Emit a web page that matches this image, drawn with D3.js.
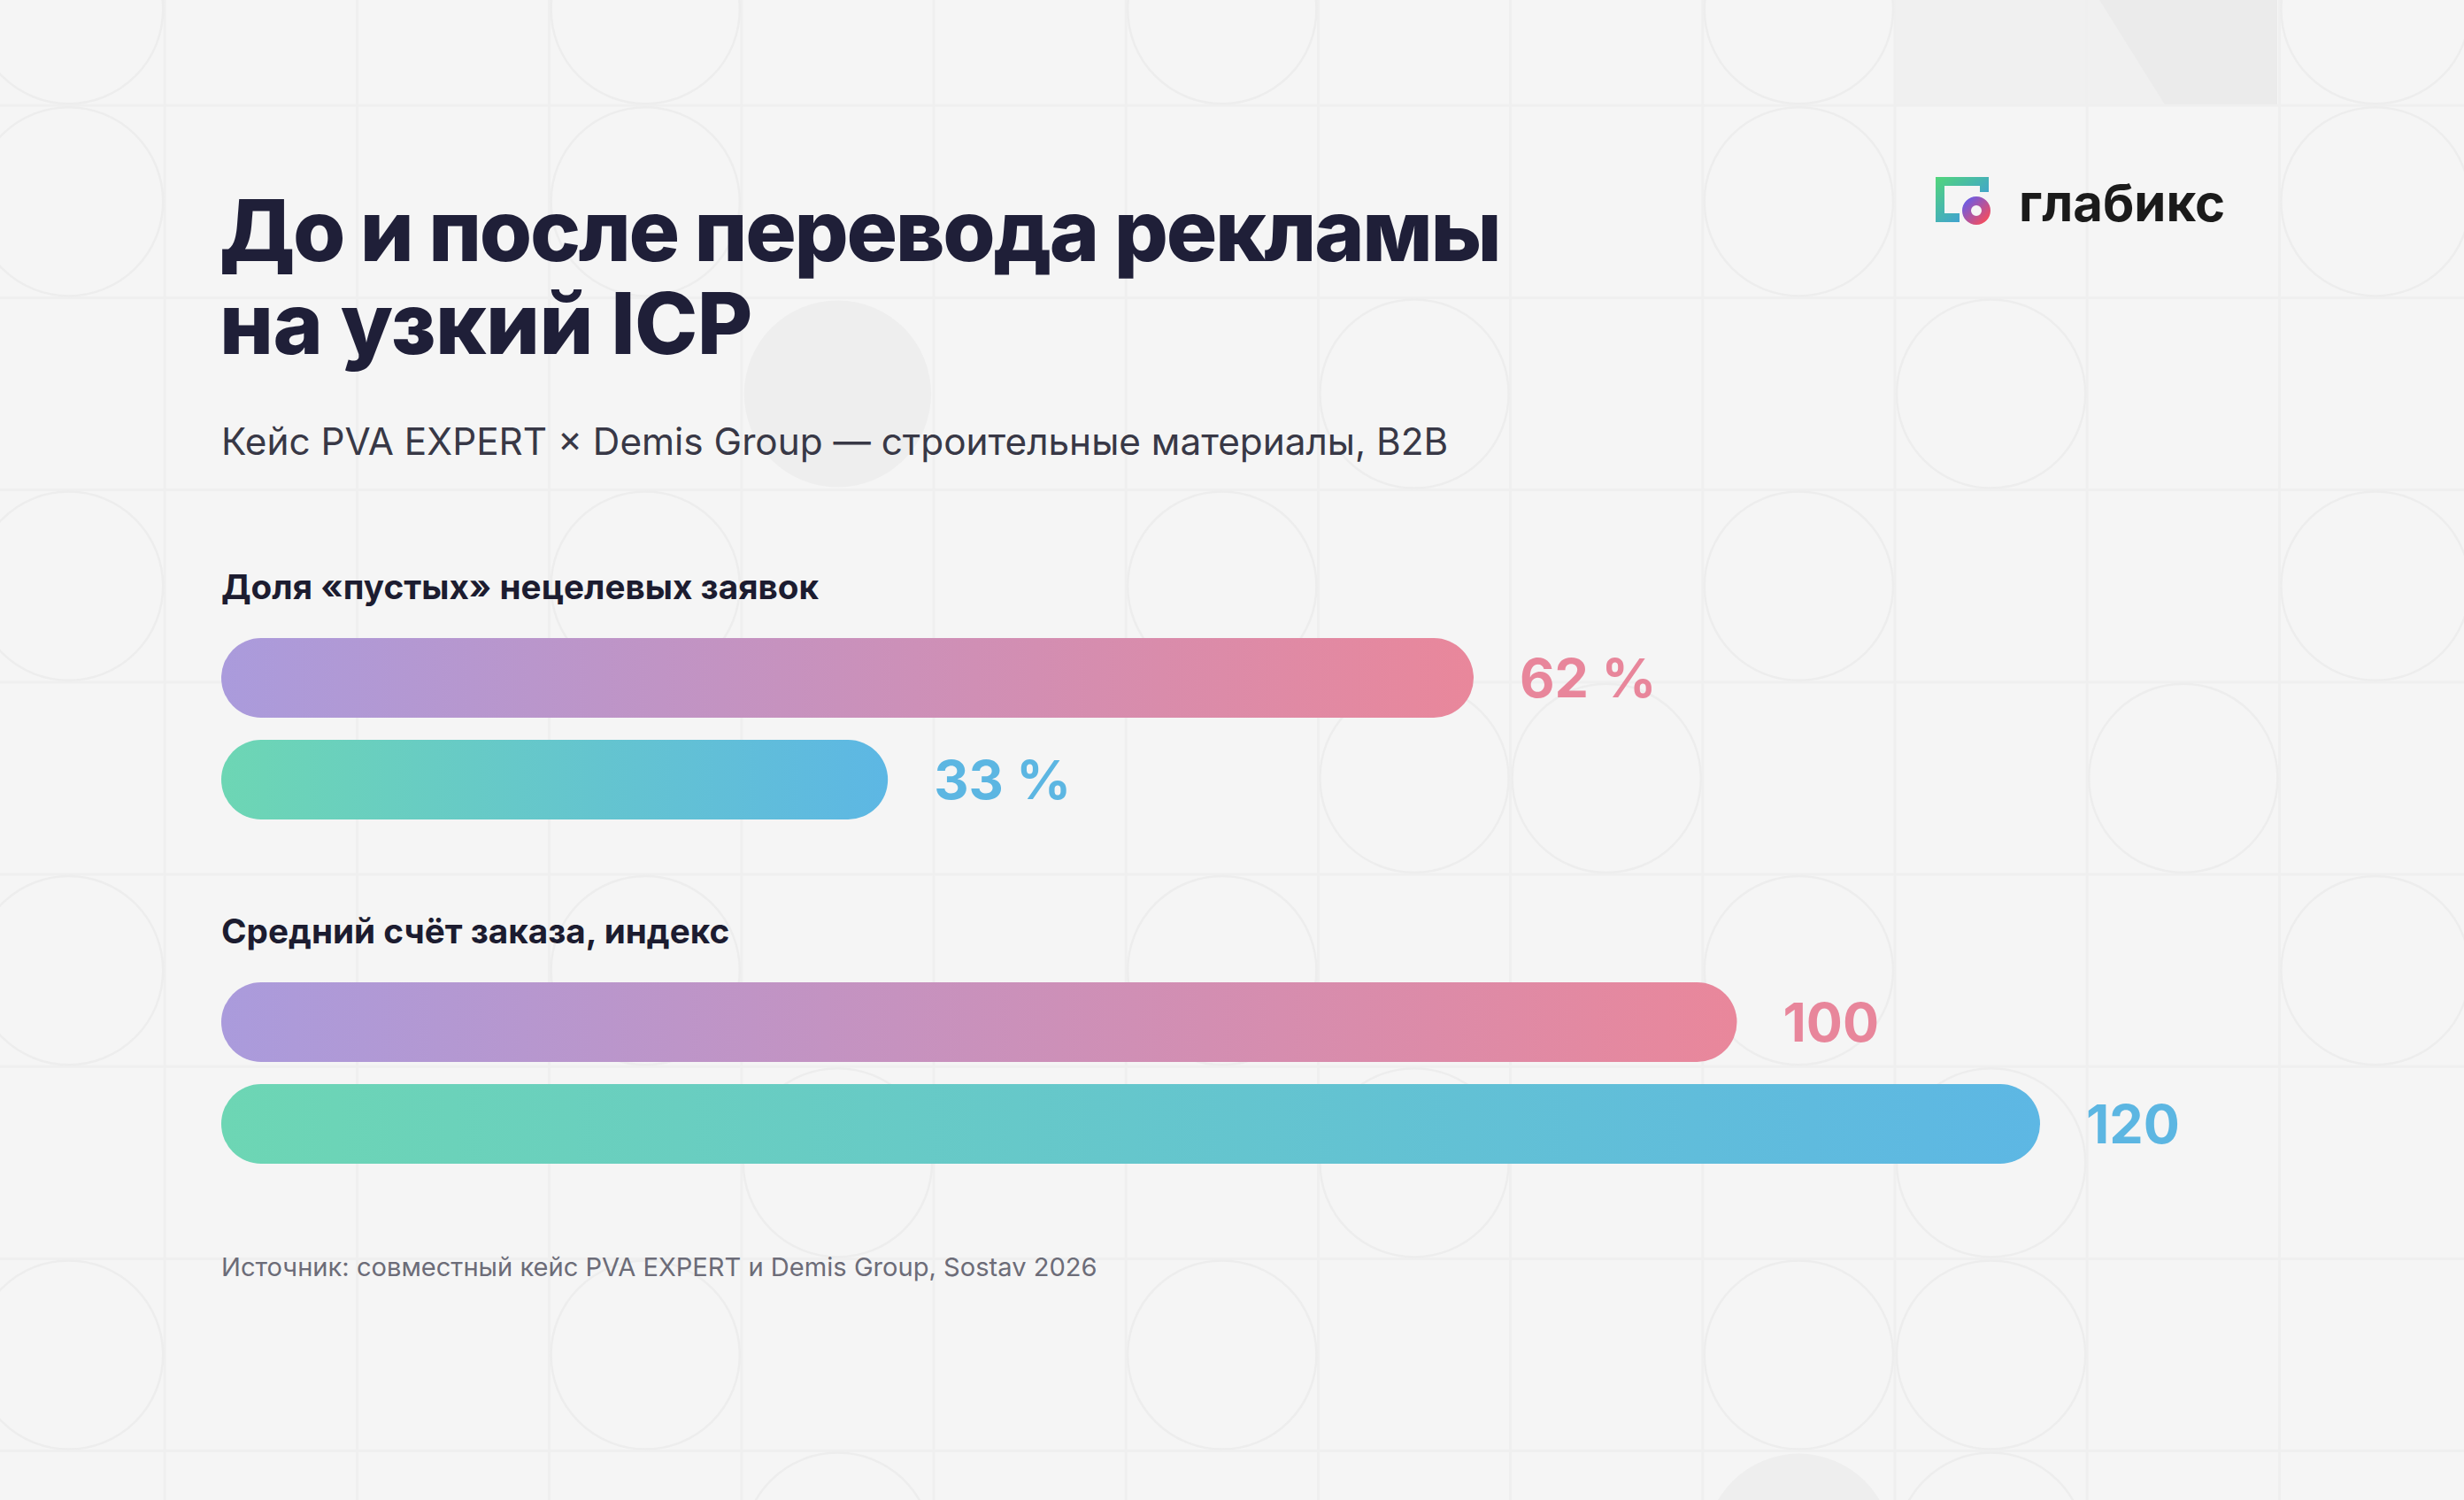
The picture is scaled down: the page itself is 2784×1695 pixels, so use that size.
<!DOCTYPE html>
<html lang="ru">
<head>
<meta charset="utf-8">
<title>До и после перевода рекламы на узкий ICP</title>
<script src="https://cdn.jsdelivr.net/npm/d3@7"></script>
<style>
  html, body { margin: 0; padding: 0; background: #f5f5f5; }
  svg { display: block; font-family: Inter, "Noto Sans", sans-serif; }
</style>
</head>
<body>
<svg id="chart" width="2784" height="1695"></svg>
<script>
// ---- data ----
var title = ["До и после перевода рекламы", "на узкий ICP"];
var subtitle = "Кейс PVA EXPERT × Demis Group — строительные материалы, B2B";
var source = "Источник: совместный кейс PVA EXPERT и Demis Group, Sostav 2026";
var groups = ["Доля «пустых» нецелевых заявок", "Средний счёт заказа, индекс"];
var series = ["before", "after"];
var beforeValues = [62, 100];
var afterValues = [33, 120];
var suffixes = [" %", ""];

// background tiles with circles: [column, row]
var ringCells = [[0,0],[3,0],[6,0],[9,0],[12,0],[0,1],[3,1],[9,1],[12,1],
  [7,2],[10,2],[0,3],[3,3],[6,3],[9,3],[12,3],[7,4],[8,4],[11,4],
  [0,5],[3,5],[6,5],[9,5],[12,5],[4,6],[7,6],[10,6],
  [0,7],[3,7],[6,7],[9,7],[10,7],[4,8],[10,8]];
var filledCells = [[4,2],[9,8]];

var W = 2784, H = 1695;
var svg = d3.select("#chart");
var defs = svg.append("defs");

// ---- background pattern ----
var cell = 217.2, ox = -31, oy = -98;
var bg = svg.append("g");
bg.append("rect").attr("width", W).attr("height", H).attr("fill", "#f5f5f5");

// top right tile
bg.append("rect").attr("x", 2142).attr("y", 0).attr("width", 431).attr("height", 120).attr("fill", "#f0f0f0");
bg.append("path").attr("d", "M2372,0 L2573,0 L2573,120 L2447,120 Z").attr("fill", "#ebebeb");

bg.selectAll("circle.fill").data(filledCells).enter().append("circle")
  .attr("class", "fill")
  .attr("cx", function(d) { return ox + cell * d[0] + cell / 2; })
  .attr("cy", function(d) { return oy + cell * d[1] + cell / 2; })
  .attr("r", cell / 2 - 3)
  .attr("fill", "#eeeeee");

bg.selectAll("line.v").data(d3.range(1, 14)).enter().append("line")
  .attr("class", "v")
  .attr("x1", function(d) { return ox + cell * d; }).attr("x2", function(d) { return ox + cell * d; })
  .attr("y1", 0).attr("y2", H)
  .attr("stroke", "#efefef").attr("stroke-width", 3);
bg.selectAll("line.h").data(d3.range(1, 9)).enter().append("line")
  .attr("class", "h")
  .attr("y1", function(d) { return oy + cell * d; }).attr("y2", function(d) { return oy + cell * d; })
  .attr("x1", 0).attr("x2", W)
  .attr("stroke", "#efefef").attr("stroke-width", 3);

bg.selectAll("circle.ring").data(ringCells).enter().append("circle")
  .attr("class", "ring")
  .attr("cx", function(d) { return ox + cell * d[0] + cell / 2; })
  .attr("cy", function(d) { return oy + cell * d[1] + cell / 2; })
  .attr("r", cell / 2 - 2)
  .attr("fill", "none")
  .attr("stroke", "#ededed").attr("stroke-width", 2.5);

// ---- gradients ----
function grad(id, c0, c1, x2, y2) {
  var g = defs.append("linearGradient").attr("id", id)
    .attr("x1", 0).attr("y1", 0).attr("x2", x2 || 1).attr("y2", y2 || 0);
  g.append("stop").attr("offset", "0%").attr("stop-color", c0);
  g.append("stop").attr("offset", "100%").attr("stop-color", c1);
}
grad("g-before", "#aa9bdc", "#e9879b");
grad("g-after", "#6dd6b4", "#5db7e4");
grad("g-frame", "#52d67a", "#3a8ff0", 1, 1);
grad("g-ring", "#6f5ce0", "#f04d62", 1, 1);

// ---- logo ----
var logo = svg.append("g").attr("transform", "translate(2187,200)");
logo.append("path")
  .attr("d", "M0,0 H60 V17 H50 V10 H10 V41 H27 V51 H0 Z")
  .attr("fill", "url(#g-frame)");
logo.append("circle").attr("cx", 46).attr("cy", 38).attr("r", 12)
  .attr("fill", "none").attr("stroke", "#f5f5f5").attr("stroke-width", 14);
logo.append("circle").attr("cx", 46).attr("cy", 38).attr("r", 11)
  .attr("fill", "none").attr("stroke", "url(#g-ring)").attr("stroke-width", 10);
svg.append("text").attr("x", 2281).attr("y", 250)
  .attr("font-size", 58).attr("font-weight", 700).attr("fill", "#1b1b1b")
  .text("глабикс");

// ---- titles ----
svg.selectAll("text.title").data(title).enter().append("text")
  .attr("class", "title")
  .attr("x", 248).attr("y", function(d, i) { return 295 + i * 105; })
  .attr("font-size", 96).attr("font-weight", 800).attr("fill", "#1f1f38")
  .attr("letter-spacing", function(d, i) { return i == 0 ? -2.3 : -0.6; })
  .text(function(d) { return d; });

svg.append("text").attr("x", 250).attr("y", 514)
  .attr("font-size", 42.3).attr("font-weight", 400).attr("fill", "#383846")
  .text(subtitle);

// ---- bars ----
var groupTop = [721, 1110];
var groupWidth = [1415, 2055];
var left = 250;

groups.forEach(function(name, gi) {
  var vals = [beforeValues[gi], afterValues[gi]];
  var x = d3.scaleLinear()
    .domain([0, d3.max(vals)])
    .range([0, groupWidth[gi]]);
  var y = d3.scaleBand()
    .domain(series)
    .range([groupTop[gi], groupTop[gi] + 205])
    .paddingInner(25 / 115);

  var g = svg.append("g").attr("class", "group");
  g.append("text")
    .attr("x", left).attr("y", groupTop[gi] - 44)
    .attr("font-size", 38.7).attr("font-weight", 700).attr("fill", "#1c1c30")
    .text(name);

  var rows = series.map(function(s, si) { return {s: s, v: vals[si]}; });

  g.selectAll("rect").data(rows).enter().append("rect")
    .attr("x", left)
    .attr("y", function(d) { return y(d.s); })
    .attr("width", function(d) { return x(d.v); })
    .attr("height", y.bandwidth())
    .attr("rx", y.bandwidth() / 2)
    .attr("fill", function(d) { return "url(#g-" + d.s + ")"; });

  g.selectAll("text.val").data(rows).enter().append("text")
    .attr("class", "val")
    .attr("x", function(d) { return left + x(d.v) + 52; })
    .attr("y", function(d) { return y(d.s) + y.bandwidth() / 2 + 22; })
    .attr("font-size", 61).attr("font-weight", 700)
    .attr("fill", function(d) { return d.s == "before" ? "#e8869b" : "#5cb6e2"; })
    .text(function(d) { return d.v + suffixes[gi]; });
});

// ---- source ----
svg.append("text").attr("x", 250).attr("y", 1442)
  .attr("font-size", 29.1).attr("fill", "#6c6c78")
  .text(source);
</script>
</body>
</html>
